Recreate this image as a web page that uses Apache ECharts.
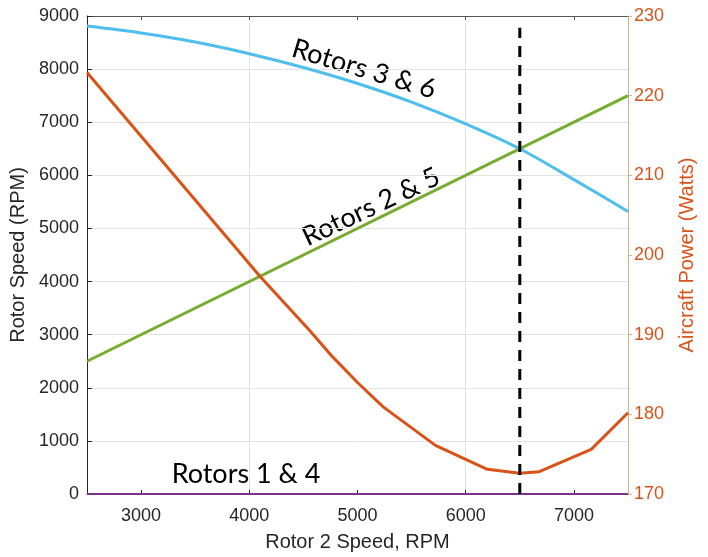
<!DOCTYPE html>
<html><head><meta charset="utf-8">
<script src="https://cdn.jsdelivr.net/npm/echarts@6/dist/echarts.min.js"></script>
<style>html,body{margin:0;padding:0;background:#fff}#c{width:708px;height:557px}</style>
</head><body><div id="c"></div>
<script>
// Rotor 2 speed (x) samples
const rpmBlue = [2500, 3000, 3500, 4000, 4500, 5000, 5500, 6000, 6500, 7000, 7500];
const rotors36 = [8810, 8680, 8510, 8290, 8030, 7730, 7380, 6970, 6500, 5920, 5320];
const rpmGreen = [2500, 7500];
const rotors25 = [2500, 7500];
const rpmPurple = [2500, 7500];
const rotors14 = [0, 0];
const rpmPower = [2500, 4100, 4560, 4750, 5000, 5240, 5720, 6200, 6500, 6680, 7160, 7500];
const power = [222.9, 197.3, 190.5, 187.5, 184.0, 180.9, 176.1, 173.1, 172.6, 172.8, 175.6, 180.2];
const markerRpm = 6500;
const markerSpan = [0, 8780];
const xTicks = [3000, 4000, 5000, 6000, 7000];

const zip = (a, b) => a.map((v, i) => [v, b[i]]);
const chart = echarts.init(document.getElementById('c'));
const lab = {fontFamily: 'Liberation Sans, Arial, sans-serif', fontSize: 18, color: '#262626'};
const nameStyle = {fontFamily: 'Liberation Sans, Arial, sans-serif', fontSize: 20, color: '#262626'};
const ann = {fontFamily: 'Lato, sans-serif', fontSize: 27, fill: '#000'};
chart.setOption({
  animation: false,
  grid: {left: 87, right: 80, top: 16, bottom: 62},
  xAxis: [{
    type: 'value', min: 2500, max: 7500, interval: 500,
    name: 'Rotor 2 Speed, RPM', nameLocation: 'middle', nameGap: 38,
    nameTextStyle: nameStyle,
    axisLine: {show: true, onZero: false, lineStyle: {color: '#262626'}},
    axisTick: {show: true, inside: true, length: 4, customValues: xTicks, lineStyle: {color: '#262626'}},
    axisLabel: Object.assign({margin: 13, customValues: xTicks,
      formatter: v => String(v)}, lab),
    splitLine: {show: true, lineStyle: {color: ['rgba(0,0,0,0)', '#e3e3e3'], width: 1}}
  }, {
    type: 'value', min: 2500, max: 7500, interval: 500, position: 'top',
    axisLine: {show: true, onZero: false, lineStyle: {color: '#555'}},
    axisTick: {show: true, inside: true, length: 4, customValues: xTicks, lineStyle: {color: '#555'}},
    axisLabel: {show: false}, splitLine: {show: false}
  }],
  yAxis: [{
    type: 'value', min: 0, max: 9000, interval: 1000, position: 'left',
    name: 'Rotor Speed (RPM)', nameLocation: 'middle', nameGap: 50,
    nameTextStyle: nameStyle,
    axisLine: {show: true, lineStyle: {color: '#262626'}},
    axisTick: {show: true, inside: true, length: 5, lineStyle: {color: '#262626'}},
    axisLabel: Object.assign({margin: 8, formatter: v => String(v)}, lab),
    splitLine: {show: true, lineStyle: {color: '#e3e3e3'}}
  }, {
    type: 'value', min: 170, max: 230, interval: 10, position: 'right',
    name: 'Aircraft Power (Watts)', nameLocation: 'middle', nameGap: 49,
    nameTextStyle: Object.assign({}, nameStyle, {color: '#D95319'}),
    axisLine: {show: true, lineStyle: {color: '#c9b48e'}},
    axisTick: {show: true, inside: false, length: 4, lineStyle: {color: '#c9b48e'}},
    axisLabel: Object.assign({}, lab, {color: '#D95319', margin: 6}),
    splitLine: {show: false}
  }],
  series: [
    {type: 'line', data: zip(rpmPurple, rotors14), symbol: 'none', lineStyle: {color: '#7E2F8E', width: 2}, z: 3},
    {type: 'line', data: zip(rpmGreen, rotors25), symbol: 'none', lineStyle: {color: '#77AC30', width: 3}},
    {type: 'line', data: zip(rpmBlue, rotors36), symbol: 'none', smooth: 0.3, lineStyle: {color: '#4DBEEE', width: 3}},
    {type: 'line', yAxisIndex: 1, data: zip(rpmPower, power), symbol: 'none', lineStyle: {color: '#D95319', width: 3}},
    {type: 'line', data: markerSpan.map(v => [markerRpm, v]), symbol: 'none',
      lineStyle: {color: '#000', width: 3, type: [11, 8]}, z: 5}
  ],
  graphic: [
    {type: 'text', x: 364, y: 69, rotation: -0.29, style: Object.assign({text: 'Rotors 3 & 6', align: 'center', verticalAlign: 'middle'}, ann)},
    {type: 'text', x: 371, y: 207, rotation: 0.44, style: Object.assign({text: 'Rotors 2 & 5', align: 'center', verticalAlign: 'middle'}, ann)},
    {type: 'text', x: 246, y: 474, style: Object.assign({text: 'Rotors 1 & 4', align: 'center', verticalAlign: 'middle'}, ann)}
  ]
});
</script></body></html>
